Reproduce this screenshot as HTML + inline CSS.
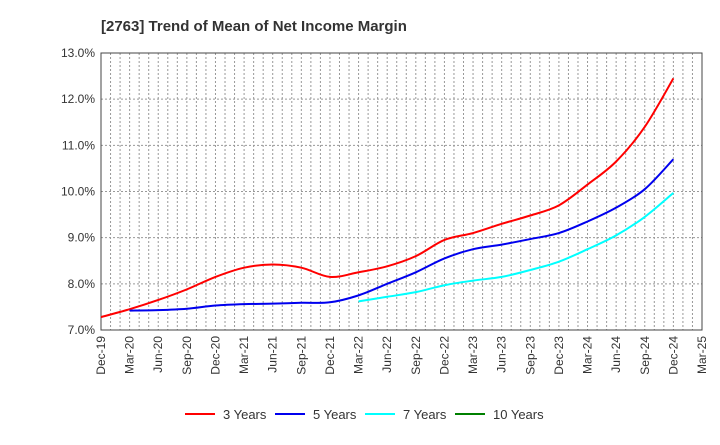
<!DOCTYPE html>
<html><head><meta charset="utf-8"><style>
body{margin:0;background:#fff;font-family:"Liberation Sans",sans-serif}
svg text{font-family:"Liberation Sans",sans-serif}
</style></head><body>
<svg width="720" height="440" id="c">
<text x="101" y="31" font-size="15" font-weight="bold" fill="#333">[2763]  Trend of Mean of Net Income Margin</text>
<g id="grid"></g><g id="axes"></g><g id="series"></g><g id="legend"></g>
</svg>
<script>
const xLabels=["Dec-19","Mar-20","Jun-20","Sep-20","Dec-20","Mar-21","Jun-21","Sep-21","Dec-21","Mar-22","Jun-22","Sep-22","Dec-22","Mar-23","Jun-23","Sep-23","Dec-23","Mar-24","Jun-24","Sep-24","Dec-24","Mar-25"];
const yTicks=[7,8,9,10,11,12,13];
const s3=[7.28,7.45,7.65,7.88,8.15,8.35,8.42,8.35,8.15,8.25,8.38,8.6,8.95,9.1,9.3,9.48,9.7,10.15,10.65,11.4,12.45];
const s5=[null,7.42,7.43,7.46,7.53,7.56,7.57,7.59,7.6,7.75,8.0,8.25,8.55,8.75,8.85,8.97,9.1,9.35,9.65,10.05,10.7];
const s7=[null,null,null,null,null,null,null,null,null,7.62,7.72,7.82,7.97,8.07,8.15,8.3,8.48,8.75,9.05,9.45,9.97];
const s10=[];
const L=101,R=702,T=53,B=330;
const X=i=>L+(R-L)*i/21, Y=v=>B-(v-7)/6*(B-T);
const ns="http://www.w3.org/2000/svg";
function mk(t,p,a){const e=document.createElementNS(ns,t);for(const k in a)e.setAttribute(k,a[k]);p.appendChild(e);return e;}
const g=document.getElementById('grid'),ax=document.getElementById('axes'),se=document.getElementById('series'),lg=document.getElementById('legend');
for(let m=1;m<63;m++){const x=L+(R-L)*m/63;const l=mk('line',g,{x1:x,x2:x,y1:T,y2:B,stroke:'#999','stroke-dasharray':'2,2','stroke-width':1});

}
yTicks.forEach(v=>{const l=mk('line',g,{x1:L,x2:R,y1:Y(v),y2:Y(v),stroke:'#999','stroke-dasharray':'2,2'});


const t=mk('text',ax,{x:L-6,y:Y(v)+4,'text-anchor':'end','font-size':12,fill:'#333'});t.textContent=v.toFixed(1)+'%';

});
const fr=mk('rect',ax,{x:L,y:T,width:R-L,height:B-T,fill:'none',stroke:'#444'});


xLabels.forEach((s,i)=>{const x=X(i);const t=mk('text',ax,{x:x+4,y:B+6,'text-anchor':'end','font-size':12,fill:'#333',transform:`rotate(-90 ${x+4} ${B+6})`});t.textContent=s;

});
function path(arr){const p=[];arr.forEach((v,i)=>{if(v!=null)p.push([X(i),Y(v)]);});if(p.length<2)return '';
let d=`M${p[0][0]},${p[0][1]}`;for(let i=0;i<p.length-1;i++){const p0=p[i-1]||p[i],p1=p[i],p2=p[i+1],p3=p[i+2]||p2;
d+=` C${p1[0]+(p2[0]-p0[0])/6},${p1[1]+(p2[1]-p0[1])/6} ${p2[0]-(p3[0]-p1[0])/6},${p2[1]-(p3[1]-p1[1])/6} ${p2[0]},${p2[1]}`;}return d;}
const series=[[s3,'#ff0000','3 Years','series-3-years'],[s5,'#0000ee','5 Years','series-5-years'],[s7,'#00ffff','7 Years','series-7-years'],[s10,'#008000','10 Years','series-10-years']];
series.forEach(([a,c,n,id],k)=>{const d=path(a);if(d){const p=mk('path',se,{d,fill:'none',stroke:c,'stroke-width':2});

}
const lx=[185,275,365,455][k];
const gi=mk('g',lg,{});


mk('line',gi,{x1:lx,x2:lx+30,y1:414,y2:414,stroke:c,'stroke-width':2});
const t=mk('text',gi,{x:lx+38,y:419,'font-size':13,fill:'#333'});t.textContent=n;});
</script>
</body></html>
